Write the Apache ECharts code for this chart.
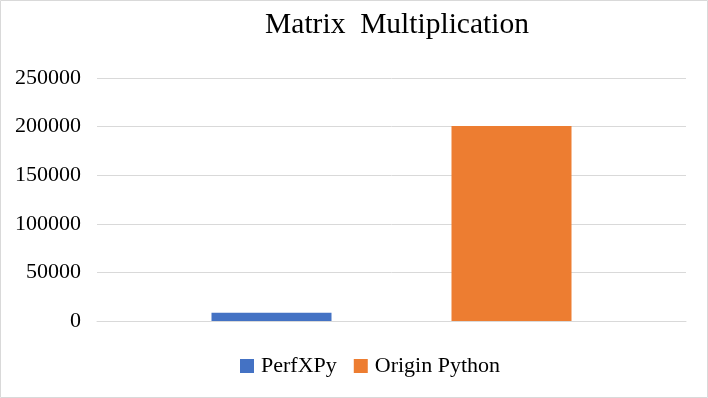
<!DOCTYPE html>
<html><head><meta charset="utf-8">
<script src="https://cdn.jsdelivr.net/npm/echarts@6/dist/echarts.min.js"></script>
<style>html,body{margin:0;padding:0;background:#fff}#c{width:708px;height:398px}</style>
</head><body><div id="c"></div>
<script>
const titleText = 'Matrix  Multiplication';
const categories = ['Matrix Multiplication'];
const seriesNames = ['PerfXPy', 'Origin Python'];
const perfxpyValues = [8600];
const originPythonValues = [200700];
const colors = ['#4472C4', '#ED7D31'];
const font = '"Liberation Serif", "Times New Roman", serif';

const chart = echarts.init(document.getElementById('c'), null, {renderer: 'canvas'});
chart.setOption({
  animation: false,
  title: {text: titleText, left: 392, textAlign: 'center', top: 5,
    textStyle: {fontFamily: font, fontSize: 29.5, fontWeight: 'normal', color: '#000'}},
  graphic: [{type: 'rect', shape: {x: 0.5, y: 0.5, width: 707, height: 397},
    style: {fill: 'none', stroke: '#d9d9d9', lineWidth: 1}, silent: true}],
  legend: {data: seriesNames, bottom: 16, left: 235, itemWidth: 14, itemHeight: 14, itemGap: 17,
    icon: 'rect', textStyle: {fontFamily: font, fontSize: 22, color: '#000', padding: [0, 0, 0, 2]}},
  grid: {left: 97, right: 22, top: 78, bottom: 77},
  xAxis: {type: 'category', data: categories, axisLabel: {show: false}, axisTick: {show: false},
    axisLine: {lineStyle: {color: '#d9d9d9'}}},
  yAxis: {type: 'value', min: 0, max: 250000, interval: 50000,
    axisLabel: {fontFamily: font, fontSize: 22, color: '#000', margin: 16, formatter: v => String(v)},
    axisLine: {show: false}, axisTick: {show: false},
    splitLine: {lineStyle: {color: '#d9d9d9'}}},
  series: [
    {name: seriesNames[0], type: 'bar', data: perfxpyValues, barWidth: 120, barGap: '100%', itemStyle: {color: colors[0]}},
    {name: seriesNames[1], type: 'bar', data: originPythonValues, barWidth: 120, barGap: '100%', itemStyle: {color: colors[1]}}
  ]
});
</script></body></html>
